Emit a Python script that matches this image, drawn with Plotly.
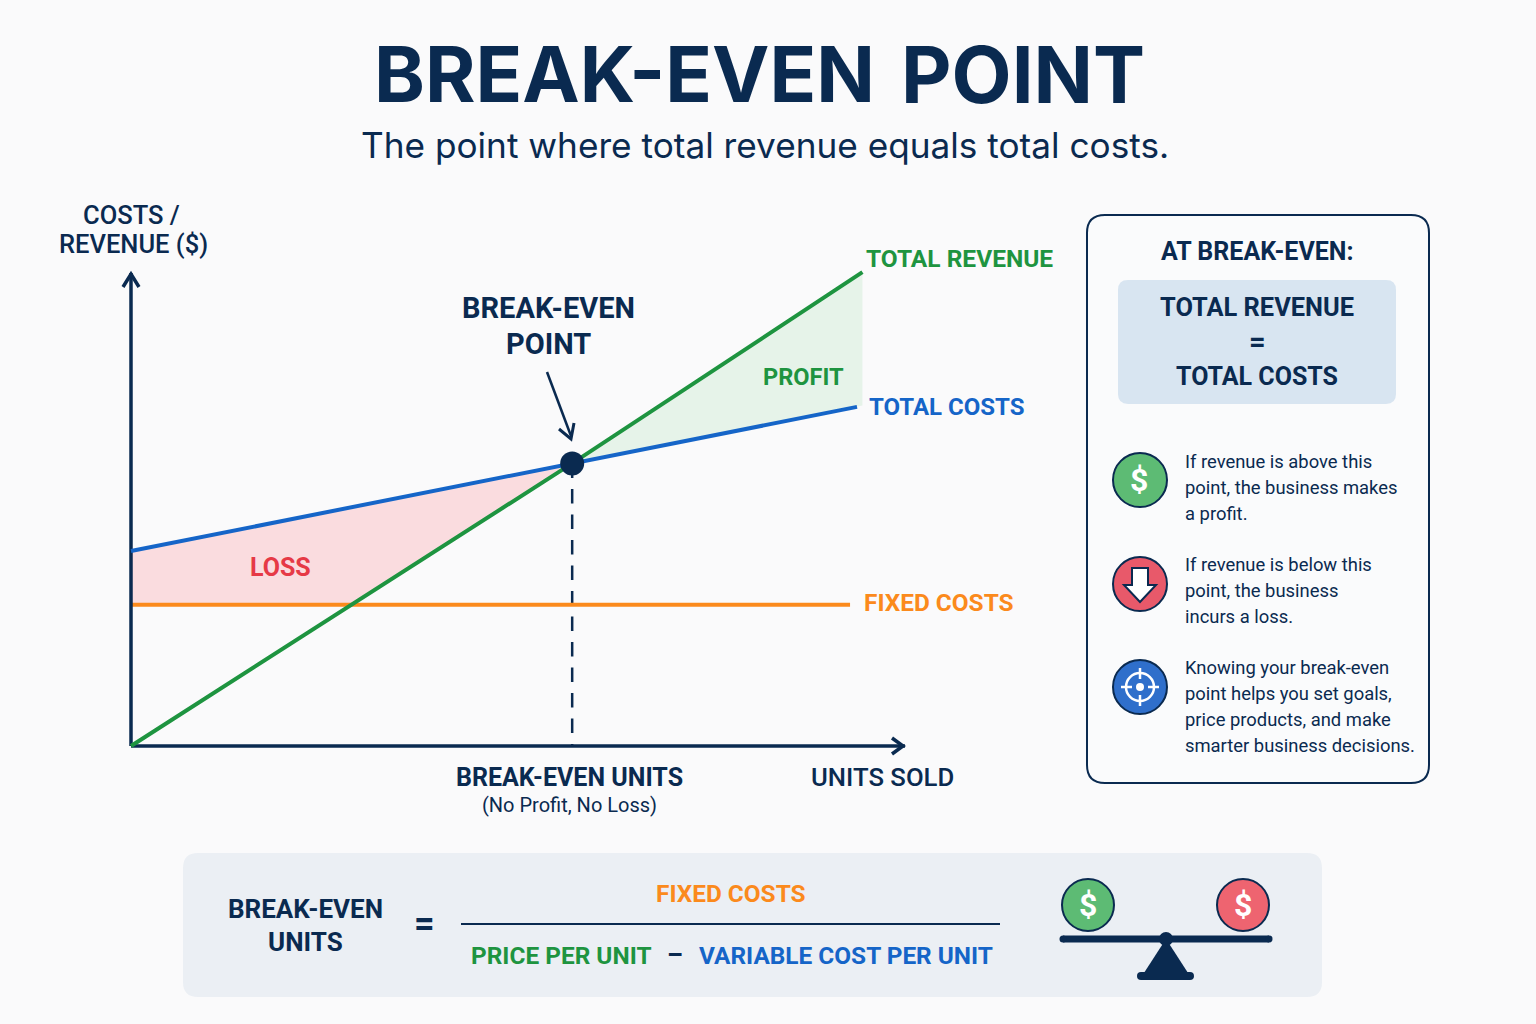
import plotly.graph_objects as go

W, H = 1536, 1024
NAVY = "#0A2A50"; GREEN = "#1E9440"; BLUE = "#1565C8"; ORANGE = "#FB8A1C"; RED = "#E63946"
FONT = "Inter"
LABEL = "Roboto"

# chart values (units sold on a 0-100 scale, money on a 0-100 scale)
be_units = 57.0
be_value = 60.0
revenue_units = [0.0, 57.0, 94.5]
revenue_values = [0.0, 60.0, 100.6]
cost_units = [0.0, 57.0, 93.8]
cost_values = [41.4, 60.0, 72.0]
fixed_units = [0.0, 92.9]
fixed_values = [30.0, 30.0]
loss_units = [0.0, 57.0, 28.3, 0.0]
loss_values = [41.4, 60.0, 30.0, 30.0]
profit_units = [57.0, 94.5, 94.5]
profit_values = [60.0, 100.6, 72.3]
dash_units = [57.0, 57.0]
dash_values = [60.0, 0.0]
x_axis_units = [0.0, 100.0]
x_axis_values = [0.0, 0.0]
y_axis_units = [0.0, 0.0]
y_axis_values = [0.0, 100.4]


def px(x):
    return x / W


def py(y):
    return 1 - y / H


def path(points, close=False):
    s = "M" + " L".join(f"{px(x):.5f},{py(y):.5f}" for x, y in points)
    return s + (" Z" if close else "")


def rrect(x0, y0, x1, y1, r):
    P = lambda x, y: f"{px(x):.5f},{py(y):.5f}"
    return (f"M{P(x0+r,y0)} L{P(x1-r,y0)} Q{P(x1,y0)} {P(x1,y0+r)} L{P(x1,y1-r)} Q{P(x1,y1)} {P(x1-r,y1)} "
            f"L{P(x0+r,y1)} Q{P(x0,y1)} {P(x0,y1-r)} L{P(x0,y0+r)} Q{P(x0,y0)} {P(x0+r,y0)} Z")


shapes = []


def add_path(d, fill="rgba(0,0,0,0)", line=None, width=0, layer="above"):
    shapes.append(dict(type="path", path=d, xref="paper", yref="paper", fillcolor=fill, layer=layer,
                       line=dict(color=line or "rgba(0,0,0,0)", width=width)))


def add_circle(cx, cy, r, fill, line=None, width=0):
    shapes.append(dict(type="circle", xref="paper", yref="paper", x0=px(cx-r), x1=px(cx+r), y0=py(cy+r), y1=py(cy-r),
                       fillcolor=fill, line=dict(color=line or "rgba(0,0,0,0)", width=width), layer="above"))


def add_line(x0, y0, x1, y1, color, width):
    shapes.append(dict(type="line", xref="paper", yref="paper", x0=px(x0), x1=px(x1), y0=py(y0), y1=py(y1),
                       line=dict(color=color, width=width), layer="above"))


annotations = []


def text(s, x, y, size, color=NAVY, weight=600, anchor="center", family=LABEL):
    annotations.append(dict(text=s, x=px(x), y=py(y), xref="paper", yref="paper", xanchor=anchor, yanchor="middle",
                            showarrow=False, align=anchor, font=dict(family=family, size=size, color=color, weight=weight)))


# panels
add_path(rrect(1087, 215, 1429, 783, 18), fill="#FAFBFC", line=NAVY, width=2, layer="below")
add_path(rrect(1118, 280, 1396, 404, 10), fill="#D8E5F1", layer="below")
add_path(rrect(183, 853, 1322, 997, 15), fill="#EBEFF4", layer="below")

# axis arrow heads
add_path(path([(123, 287), (131, 274), (139, 287)]), line=NAVY, width=3.5)
add_path(path([(892, 738), (903, 746), (892, 754)]), line=NAVY, width=3.5)

# pointer to the break-even point
add_line(547, 372, 571, 436, NAVY, 2.5)
add_path(path([(559, 429), (571, 439), (574, 423)]), line=NAVY, width=3)

# icon 1: dollar
add_circle(1140, 480, 27, "#5DBB74", NAVY, 2)
# icon 2: down arrow
add_circle(1140, 584, 27, "#E8596A", NAVY, 2)
add_path(path([(1132, 568), (1148, 568), (1148, 585), (1156, 585), (1140, 602), (1124, 585), (1132, 585)], True),
         fill="#FFFFFF", line=NAVY, width=2)
# icon 3: target
add_circle(1140, 687, 27, "#2F6FCB", NAVY, 2)
add_circle(1140, 687, 14, "rgba(0,0,0,0)", "#FFFFFF", 2.5)
add_circle(1140, 687, 4, "#FFFFFF")
add_line(1140, 668, 1140, 679, "#FFFFFF", 2.5)
add_line(1140, 695, 1140, 706, "#FFFFFF", 2.5)
add_line(1121, 687, 1132, 687, "#FFFFFF", 2.5)
add_line(1148, 687, 1159, 687, "#FFFFFF", 2.5)

# formula rule
add_line(461, 924, 1000, 924, NAVY, 2)

# balance scale
add_circle(1088, 905, 26, "#5DBB74", NAVY, 2)
add_circle(1243, 905, 26, "#EE6470", NAVY, 2)
add_line(1063, 939, 1269, 939, NAVY, 7)
add_circle(1063, 939, 3.5, NAVY)
add_circle(1269, 939, 3.5, NAVY)
add_circle(1166, 939, 7, NAVY)
add_path(path([(1164, 942), (1168, 942), (1190, 976), (1142, 976)], True), fill=NAVY)
add_path(rrect(1137, 972, 1194, 980, 4), fill=NAVY)

# header
text("BREAK-EVEN", 624, 74, 77, NAVY, 700, family=FONT)
text("POINT", 1023, 74, 78, NAVY, 700, family=FONT)
text("The point where total revenue equals total costs.", 765, 145, 35.2, NAVY, 400, family=FONT)

# chart labels
text("COSTS /", 131, 215, 25.5, NAVY, 500)
text("REVENUE ($)", 133, 244, 25.5, NAVY, 500)
text("BREAK-EVEN", 548, 308, 29, NAVY, 700)
text("POINT", 548, 344, 29, NAVY, 700)
text("TOTAL REVENUE", 864, 258, 24.5, GREEN, 700, "left")
text("TOTAL COSTS", 867, 407, 24, BLUE, 700, "left")
text("FIXED COSTS", 862, 602, 24.4, ORANGE, 700, "left")
text("PROFIT", 803, 377, 23.6, GREEN, 700)
text("LOSS", 280, 567, 25, RED, 700)
text("BREAK-EVEN UNITS", 569, 777, 25, NAVY, 700)
text("(No Profit, No Loss)", 569, 805, 20, NAVY, 400)
text("UNITS SOLD", 882, 777, 25.7, NAVY, 500)

# side panel
text("AT BREAK-EVEN:", 1257, 251, 25, NAVY, 700)
text("TOTAL REVENUE", 1257, 307, 25.4, NAVY, 700)
text("=", 1257, 342, 29, NAVY, 700)
text("TOTAL COSTS", 1257, 376, 25, NAVY, 700)
side_lines = [
    ("If revenue is above this", 461), ("point, the business makes", 487), ("a profit.", 513),
    ("If revenue is below this", 564), ("point, the business", 590), ("incurs a loss.", 616),
    ("Knowing your break-even", 667), ("point helps you set goals,", 693),
    ("price products, and make", 719), ("smarter business decisions.", 745),
]
for s, y in side_lines:
    text(s, 1183, y, 18.4, NAVY, 400, "left")
text("$", 1139, 480, 32, "#FFFFFF", 700)

# formula
text("BREAK-EVEN", 305, 909, 26, NAVY, 700)
text("UNITS", 305, 942, 26, NAVY, 700)
text("=", 424, 924, 36, NAVY, 700)
text("FIXED COSTS", 731, 893, 24.4, ORANGE, 700)
text("PRICE PER UNIT", 561, 955, 24.4, GREEN, 700)
text("–", 675, 955, 25, NAVY, 700)
text("VARIABLE COST PER UNIT", 846, 955, 24.4, BLUE, 700)
text("$", 1088, 905, 32, "#FFFFFF", 700)
text("$", 1243, 905, 32, "#FFFFFF", 700)

fig = go.Figure()
fig.add_trace(go.Scatter(x=loss_units, y=loss_values, fill="toself", mode="none", fillcolor="#FADCDF", hoverinfo="skip"))
fig.add_trace(go.Scatter(x=profit_units, y=profit_values, fill="toself", mode="none", fillcolor="#E6F3E9", hoverinfo="skip"))
fig.add_trace(go.Scatter(x=dash_units, y=dash_values, mode="lines", line=dict(color=NAVY, width=2.5, dash="14.5px,11px")))
fig.add_trace(go.Scatter(x=fixed_units, y=fixed_values, mode="lines", line=dict(color=ORANGE, width=4)))
fig.add_trace(go.Scatter(x=y_axis_units, y=y_axis_values, mode="lines", line=dict(color=NAVY, width=3.5)))
fig.add_trace(go.Scatter(x=x_axis_units, y=x_axis_values, mode="lines", line=dict(color=NAVY, width=3.5)))
fig.add_trace(go.Scatter(x=cost_units, y=cost_values, mode="lines", line=dict(color=BLUE, width=4)))
fig.add_trace(go.Scatter(x=revenue_units, y=revenue_values, mode="lines", line=dict(color=GREEN, width=4)))
fig.add_trace(go.Scatter(x=[be_units], y=[be_value], mode="markers", marker=dict(color=NAVY, size=24), cliponaxis=False))

# px per unit: 7.74 on x, 4.71 on y; the ranges run past the axes so that the lines are not clipped
axis = dict(showgrid=False, zeroline=False, showticklabels=False, ticks="", showline=False, fixedrange=True)
fig.update_layout(
    width=W, height=H, margin=dict(l=0, r=0, t=0, b=0), autosize=False,
    paper_bgcolor="#FAFAFB", plot_bgcolor="rgba(0,0,0,0)", showlegend=False,
    xaxis=dict(axis, domain=[px(131 - 2 * 7.74), px(905 + 2 * 7.74)], range=[-2, 102]),
    yaxis=dict(axis, domain=[py(746 + 2 * 4.71), py(746 - 103 * 4.71)], range=[-2, 103]),
    shapes=shapes, annotations=annotations,
    font=dict(family=FONT, color=NAVY),
)
fig.write_html("out.html", config=dict(displayModeBar=False),
               post_script="document.body.style.margin='0';document.body.style.overflow='hidden';")
